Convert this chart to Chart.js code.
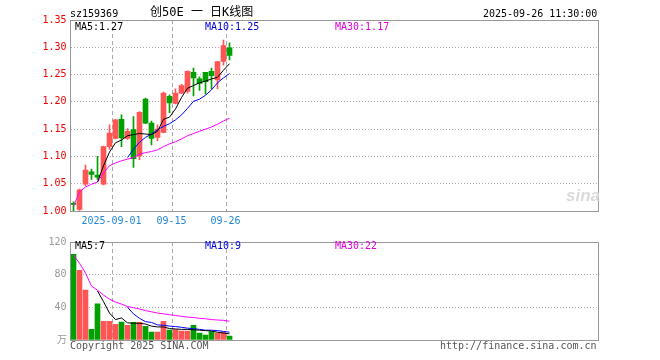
<!DOCTYPE html>
<html lang="zh-CN">
<head>
<meta charset="UTF-8">
<title>创50E 日K线图</title>
<style>
  body { margin: 0; background: #fff; }
  #wrap { position: relative; width: 660px; height: 360px; overflow: hidden;
          font-family: "DejaVu Sans Mono", monospace; font-size: 10px; }
  .pane { position: absolute; left: 0; }
  .t { position: absolute; white-space: pre; line-height: 12px; }
</style>
</head>
<body>
<div id="wrap">
  <div class="pane" style="top:0;width:660px;height:232px;"><canvas id="price" width="660" height="232"></canvas></div>
  <div class="pane" style="top:232px;width:660px;height:128px;"><canvas id="vol" width="660" height="128"></canvas></div>

  <div class="t" style="left:70px;top:8px;color:#000;">sz159369</div>
  <div class="t" style="left:150px;top:5px;font-size:12px;line-height:14px;color:#000;font-family:'DejaVu Sans Mono','Noto Sans CJK SC',monospace;">创50E 一 日K线图</div>
  <div class="t" style="left:483px;top:8px;color:#000;">2025-09-26 11:30:00</div>

  <div class="t" style="left:75px;top:21px;color:#000;">MA5:1.27</div>
  <div class="t" style="left:205px;top:21px;color:#0000dd;">MA10:1.25</div>
  <div class="t" style="left:335px;top:21px;color:#e000e0;">MA30:1.17</div>

  <div class="t" style="left:566px;top:186px;font:italic bold 17px 'Liberation Sans',sans-serif;color:#dadada;">sina</div>

  <div class="t" style="left:75px;top:240px;color:#000;">MA5:7</div>
  <div class="t" style="left:205px;top:240px;color:#0000dd;">MA10:9</div>
  <div class="t" style="left:335px;top:240px;color:#e000e0;">MA30:22</div>

  <div class="t" style="left:70px;top:340px;color:#555;">Copyright 2025 SINA.COM</div>
  <div class="t" style="left:440px;top:340px;color:#555;">http://finance.sina.com.cn</div>
</div>

<script src="https://cdn.jsdelivr.net/npm/chart.js"></script>
<script>
// trading days shown
const dates = ['2025-08-21', '2025-08-22', '2025-08-25', '2025-08-26', '2025-08-27', '2025-08-28', '2025-08-29',
  '2025-09-01', '2025-09-02', '2025-09-03', '2025-09-04', '2025-09-05', '2025-09-08', '2025-09-09', '2025-09-10',
  '2025-09-11', '2025-09-12', '2025-09-15', '2025-09-16', '2025-09-17', '2025-09-18', '2025-09-19', '2025-09-22',
  '2025-09-23', '2025-09-24', '2025-09-25', '2025-09-26'];

const openP = [1.013, 1.003, 1.049, 1.072, 1.066, 1.049, 1.118, 1.133, 1.168, 1.133, 1.149, 1.101, 1.205, 1.161,
  1.135, 1.144, 1.210, 1.197, 1.216, 1.219, 1.254, 1.242, 1.254, 1.256, 1.240, 1.274, 1.299];
const closeP = [1.012, 1.039, 1.075, 1.067, 1.062, 1.118, 1.143, 1.167, 1.134, 1.146, 1.096, 1.181, 1.161, 1.133,
  1.150, 1.216, 1.198, 1.216, 1.230, 1.256, 1.244, 1.234, 1.237, 1.248, 1.274, 1.303, 1.285];
const highP = [1.017, 1.040, 1.084, 1.077, 1.100, 1.119, 1.158, 1.168, 1.176, 1.151, 1.173, 1.182, 1.207, 1.165,
  1.158, 1.218, 1.213, 1.224, 1.232, 1.257, 1.262, 1.246, 1.254, 1.262, 1.274, 1.313, 1.308];
const lowP = [1.000, 1.001, 1.046, 1.058, 1.058, 1.048, 1.113, 1.132, 1.118, 1.131, 1.080, 1.094, 1.160, 1.121,
  1.129, 1.143, 1.180, 1.196, 1.215, 1.216, 1.211, 1.221, 1.214, 1.224, 1.224, 1.267, 1.277];

const ma5P = [null, null, null, null, 1.053, 1.083, 1.108, 1.125, 1.130, 1.138, 1.140, 1.142, 1.141, 1.140,
  1.146, 1.168, 1.172, 1.187, 1.208, 1.225, 1.230, 1.235, 1.238, 1.242, 1.245, 1.258, 1.270];
const ma10P = [null, null, null, null, null, null, null, null, null, 1.098, 1.113, 1.126, 1.135, 1.141,
  1.149, 1.155, 1.160, 1.167, 1.176, 1.188, 1.201, 1.205, 1.212, 1.222, 1.235, 1.244, 1.252];
const ma30P = [1.009, 1.035, 1.044, 1.049, 1.053, 1.070, 1.083, 1.088, 1.092, 1.095, 1.098, 1.104, 1.107, 1.109,
  1.112, 1.118, 1.123, 1.127, 1.132, 1.138, 1.142, 1.146, 1.150, 1.154, 1.159, 1.165, 1.170];

// volume, 万手
const volume = [104.8, 85.2, 61.2, 13.2, 44.4, 22.8, 22.8, 19.2, 22.0, 18.0, 21.6, 21.6, 16.8, 9.6,
  9.6, 22.8, 12.0, 12.8, 10.8, 10.8, 18.0, 8.4, 6.0, 10.4, 8.4, 9.6, 4.8];
const ma5V = [null, null, null, null, 60, 47, 33, 25, 27, 21, 20.5, 20.5, 19.5, 17,
  16, 16, 14, 13.5, 13, 13, 12.5, 12, 11.5, 11, 9.5, 8.5, 7.5];
const ma10V = [null, null, null, null, null, null, null, null, null, 40, 32, 26.5, 22.5, 21.5,
  18.5, 18, 17, 16.5, 15.5, 14.5, 14, 13, 12, 12, 11.5, 10.5, 9.5];
const ma30V = [104, 94, 82, 66, 61, 55, 50, 46.5, 44, 41, 39.5, 38, 36, 34.5,
  33, 32, 31, 30, 29, 28, 27.5, 26.5, 26, 25, 24.5, 24, 23];

const priceTicks = [1.00, 1.05, 1.10, 1.15, 1.20, 1.25, 1.30, 1.35];
const volTicks = [0, 40, 80, 120];
const volTickLabels = ['万', '40', '80', '120'];
const tickDates = ['2025-09-01', '2025-09-15', '2025-09-26'];
const tickLabels = ['2025-09-01', '09-15', '09-26'];

const SLOTS = 88; // days the window can hold
const labels = dates.concat(new Array(SLOTS - dates.length).fill(''));

const RED = '#ff5555';
const GREEN = '#00a000';
const barColors = closeP.map((c, i) => c >= openP[i] ? RED : GREEN);

Chart.defaults.font.family = '"DejaVu Sans Mono", monospace';
Chart.defaults.font.size = 10;
Chart.defaults.animation = false;

// grey box round the plot area
const frame = {
  id: 'frame',
  beforeDatasetsDraw(chart) {
    const { ctx, chartArea: a } = chart;
    ctx.save();
    ctx.strokeStyle = '#999';
    ctx.lineWidth = 1;
    ctx.strokeRect(Math.floor(a.left) + 0.5, Math.floor(a.top) + 0.5,
      Math.round(a.right - a.left), Math.round(a.bottom - a.top));
    ctx.restore();
  }
};

function dateLine(c) {
  return tickDates.includes(labels[c.index]) ? 1 : 0;
}

function xAxis(showLabels, h) {
  return {
    type: 'category',
    offset: true,
    afterFit: s => { s.height = h; },
    grid: { offset: true, drawTicks: false, color: '#aaa', lineWidth: dateLine },
    border: { display: false, dash: [4, 3] },
    ticks: {
      display: showLabels, autoSkip: false, maxRotation: 0, minRotation: 0,
      color: '#1f87d6', padding: 4, labelOffset: -4,
      callback: (v, i) => {
        const k = tickDates.indexOf(labels[i]);
        return k < 0 ? '' : tickLabels[k];
      }
    }
  };
}

function maLine(data, color) {
  return { type: 'line', data: data, borderColor: color, borderWidth: 1, pointRadius: 0, tension: 0, order: 0 };
}

const common = {
  responsive: false,
  devicePixelRatio: 1,
  plugins: { legend: { display: false }, tooltip: { enabled: false } }
};

new Chart(document.getElementById('price'), {
  type: 'bar',
  data: {
    labels: labels,
    datasets: [
      maLine(ma5P, '#000'),
      maLine(ma10P, '#0000ff'),
      maLine(ma30P, '#ff00ff'),
      {
        data: openP.map((o, i) => [o, closeP[i]]),
        backgroundColor: barColors, barThickness: 5, minBarLength: 1, grouped: false, order: 1
      },
      {
        data: lowP.map((l, i) => [l, highP[i]]),
        backgroundColor: barColors, barThickness: 1, grouped: false, order: 2
      }
    ]
  },
  options: {
    ...common,
    layout: { padding: { top: 20, right: 61.5, left: 0, bottom: 0 } },
    scales: {
      x: xAxis(true, 21),
      y: {
        min: 1, max: 1.35,
        afterFit: s => { s.width = 70.5; },
        afterBuildTicks: s => { s.ticks = priceTicks.map(v => ({ value: v })); },
        grid: { drawTicks: false, color: '#aaa' },
        border: { display: false, dash: [1, 2] },
        ticks: { color: '#ee0000', padding: 4, callback: v => v.toFixed(2) }
      }
    }
  },
  plugins: [frame]
});

new Chart(document.getElementById('vol'), {
  type: 'bar',
  data: {
    labels: labels,
    datasets: [
      maLine(ma5V, '#000'),
      maLine(ma10V, '#0000ff'),
      maLine(ma30V, '#ff00ff'),
      { data: volume, backgroundColor: barColors, barThickness: 5, grouped: false, order: 1 }
    ]
  },
  options: {
    ...common,
    layout: { padding: { top: 8, right: 61.5, left: 0, bottom: 0 } },
    scales: {
      x: xAxis(false, 20),
      y: {
        min: 0, max: 120,
        afterFit: s => { s.width = 70.5; },
        afterBuildTicks: s => { s.ticks = volTicks.map(v => ({ value: v })); },
        grid: { drawTicks: false, color: '#aaa' },
        border: { display: false, dash: [1, 2] },
        ticks: { color: '#999', padding: 4, callback: (v, i) => volTickLabels[i] }
      }
    }
  },
  plugins: [frame]
});
</script>
</body>
</html>
